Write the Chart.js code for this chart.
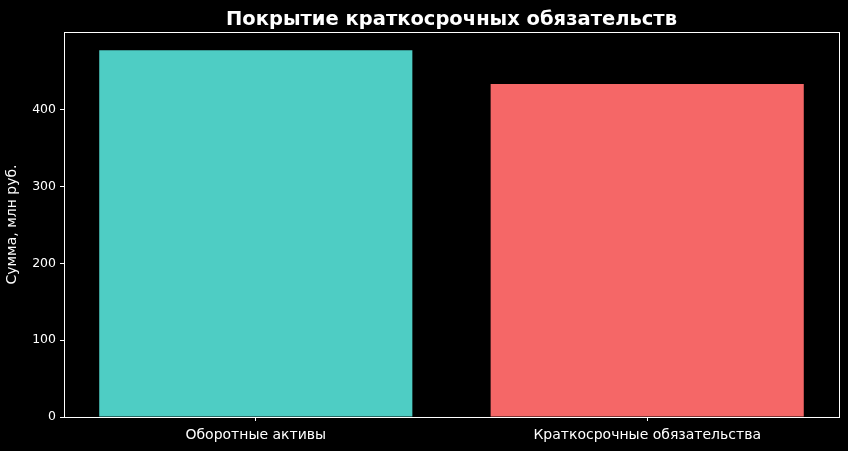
<!DOCTYPE html>
<html>
<head>
<meta charset="utf-8">
<script src="https://cdn.jsdelivr.net/npm/chart.js@4"></script>
<style>
  html, body { margin: 0; padding: 0; background: #000; }
  #wrap { width: 848px; height: 451px; position: relative; }
</style>
</head>
<body>
<div id="wrap"><canvas id="chart"></canvas></div>
<script>
  // Data
  const categories = ['Оборотные активы', 'Краткосрочные обязательства'];
  const amounts = [477.6, 433.8];
  const barColors = ['#4ECDC4', '#F56767'];
  const yTicks = [0, 100, 200, 300, 400];
  const titleText = 'Покрытие краткосрочных обязательств';
  const yLabel = 'Сумма, млн руб.';

  const FONT = "'DejaVu Sans', sans-serif";

  // white box round the plot area + centred title
  const framePlugin = {
    id: 'frame',
    afterDraw(chart) {
      const { ctx, chartArea: a } = chart;
      ctx.save();
      ctx.strokeStyle = '#fff';
      ctx.lineWidth = 1;
      ctx.strokeRect(Math.round(a.left) + 0.5, Math.round(a.top) + 0.5,
        Math.round(a.right - a.left), Math.round(a.bottom - a.top));
      ctx.fillStyle = '#fff';
      ctx.font = 'bold 19.5px ' + FONT;
      ctx.textAlign = 'center';
      ctx.textBaseline = 'alphabetic';
      ctx.fillText(titleText, (a.left + a.right) / 2, 25);
      ctx.restore();
    }
  };

  new Chart(document.getElementById('chart'), {
    type: 'bar',
    data: {
      datasets: [{
        data: amounts.map((v, i) => ({ x: i, y: v })),
        backgroundColor: barColors,
        borderWidth: 0,
        barPercentage: 0.8,
        categoryPercentage: 1
      }]
    },
    options: {
      responsive: true,
      maintainAspectRatio: false,
      animation: false,
      layout: { padding: { top: 32, right: 9, left: 0, bottom: 0 } },
      plugins: {
        legend: { display: false },
        tooltip: { enabled: false }
      },
      scales: {
        x: {
          type: 'linear',
          offset: false,
          min: -0.49,
          max: 1.49,
          afterBuildTicks: s => { s.ticks = categories.map((c, i) => ({ value: i })); },
          afterFit: s => { s.height = 34; },
          border: { display: false },
          grid: { offset: false, drawOnChartArea: false, drawTicks: true, tickLength: 4, color: '#fff' },
          ticks: {
            color: '#fff',
            font: { family: FONT, size: 14 },
            padding: 6,
            maxRotation: 0,
            callback: v => categories[v]
          }
        },
        y: {
          min: 0,
          max: 501.5,
          afterBuildTicks: s => { s.ticks = yTicks.map(v => ({ value: v })); },
          afterFit: s => { s.width = 64; },
          border: { display: false },
          grid: { drawOnChartArea: false, drawTicks: true, tickLength: 4, color: '#fff' },
          ticks: {
            color: '#fff',
            font: { family: FONT, size: 12.5 },
            padding: 4
          },
          title: {
            display: true,
            text: yLabel,
            color: '#fff',
            font: { family: FONT, size: 14 },
            padding: { top: 4, bottom: 0 }
          }
        }
      }
    },
    plugins: [framePlugin]
  });
</script>
</body>
</html>
